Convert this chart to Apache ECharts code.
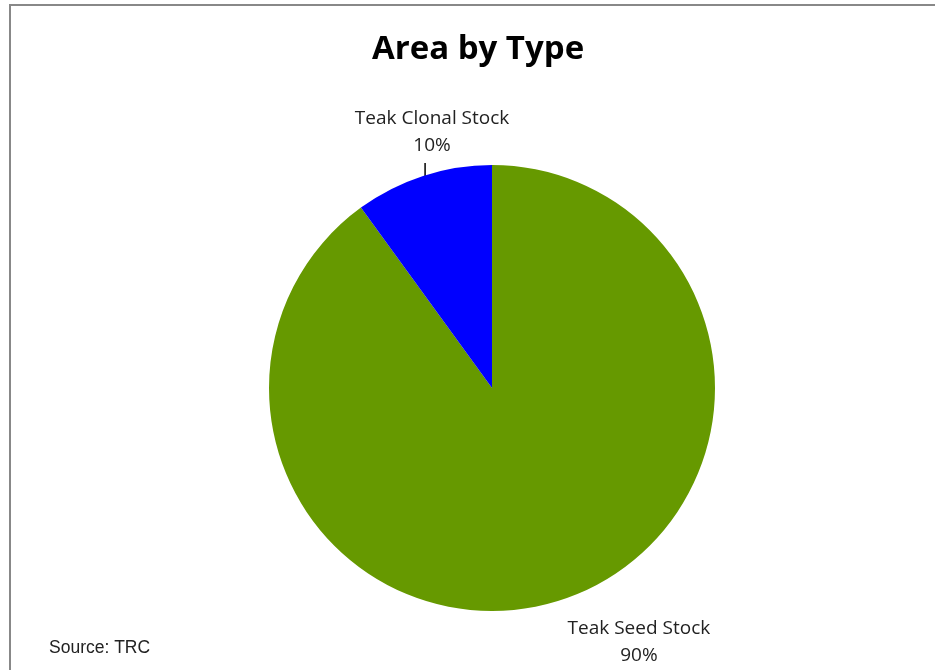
<!DOCTYPE html>
<html>
<head>
<meta charset="utf-8">
<script src="https://cdn.jsdelivr.net/npm/echarts@6/dist/echarts.min.js"></script>
<style>
html,body{margin:0;padding:0;background:#fff;}
#chart{width:935px;height:670px;}
</style>
</head>
<body>
<div id="chart"></div>
<script>
const categories = ['Teak Seed Stock', 'Teak Clonal Stock'];
const values = [90, 10];
const colors = ['#669900', '#0000FF'];
const titleText = 'Area by Type';
const sourceText = 'Source: TRC';

const chart = echarts.init(document.getElementById('chart'));
const option = {
  backgroundColor: '#ffffff',
  animation: false,
  title: {
    text: titleText,
    left: 473,
    textAlign: 'center',
    top: 28,
    textStyle: { fontFamily: 'Open Sans', fontWeight: 'bold', fontSize: 33, color: '#000' }
  },
  graphic: [
    { type: 'rect', shape: { x: 10, y: 5, width: 1200, height: 1200 }, style: { fill: 'none', stroke: '#888888', lineWidth: 2 } },
    { type: 'text', left: 49, top: 639, style: { text: sourceText, font: '17.5px "Liberation Sans", Arial', fill: '#222' } }
  ],
  series: [{
    type: 'pie',
    center: [492, 388],
    radius: 223,
    startAngle: 90,
    clockwise: true,
    data: categories.map((c, i) => ({ name: c, value: values[i], itemStyle: { color: colors[i] } })),
    label: {
      show: true,
      position: 'outside',
      formatter: p => p.name + '\n' + Math.round(p.percent) + '%',
      fontFamily: 'Open Sans',
      fontSize: 19,
      lineHeight: 27,
      color: '#222',
      align: 'center'
    },
    labelLine: { show: true, length: 13, length2: 0, lineStyle: { color: '#000', width: 1.5 } },
    labelLayout: function (params) {
      const s = params.labelLinePoints ? params.labelLinePoints[0] : [0, 0];
      if (params.dataIndex === 1) {
        return {
          x: s[0] + 9, y: s[1] - 17,
          align: 'center', verticalAlign: 'bottom',
          labelLinePoints: [[s[0] + 2, s[1]], [s[0] + 2, s[1] - 13]]
        };
      }
      return {
        x: s[0] + 78, y: s[1] + 15,
        align: 'center', verticalAlign: 'top',
        labelLinePoints: [s, s]
      };
    },
    emphasis: { disabled: true }
  }]
};
chart.setOption(option);
</script>
</body>
</html>
